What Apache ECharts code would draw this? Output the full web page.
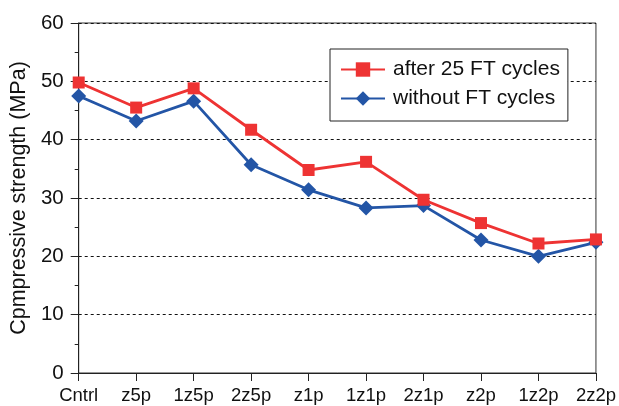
<!DOCTYPE html>
<html>
<head>
<meta charset="utf-8">
<script src="https://cdn.jsdelivr.net/npm/echarts@6/dist/echarts.min.js"></script>
<style>html,body{margin:0;padding:0;background:#fff;}#c{width:619px;height:406px;}</style>
</head>
<body>
<div id="c"></div>
<script>
var categories = ['Cntrl','z5p','1z5p','2z5p','z1p','1z1p','2z1p','z2p','1z2p','2z2p'];
var afterFT = [49.8, 45.5, 48.8, 41.7, 34.8, 36.2, 29.7, 25.7, 22.2, 22.9];
var withoutFT = [47.5, 43.2, 46.6, 35.7, 31.4, 28.3, 28.7, 22.8, 20.0, 22.4];
var yTicks = [0, 10, 20, 30, 40, 50, 60];

var chart = echarts.init(document.getElementById('c'));
var font = 'Liberation Sans, Arial, sans-serif';
chart.setOption({
  animation: false,
  backgroundColor: '#fff',
  grid: { left: 78, right: 21, top: 23, bottom: 33, show: true, borderColor: '#333', borderWidth: 1, backgroundColor: 'transparent' },
  legend: {
    orient: 'vertical', left: 330, top: 49,
    data: ['after 25 FT cycles', 'without FT cycles'],
    backgroundColor: '#fff', borderColor: '#222', borderWidth: 1,
    padding: [10, 8, 12, 10], itemWidth: 44, itemHeight: 18, itemGap: 8,
    textStyle: { fontFamily: font, fontSize: 21, color: '#111', padding: [0, 0, 0, 3] }
  },
  xAxis: {
    type: 'category', data: categories, boundaryGap: false,
    axisLine: { lineStyle: { color: '#222', width: 1 } },
    axisTick: { show: true, length: 8, alignWithLabel: true, lineStyle: { color: '#222' } },
    axisLabel: { fontFamily: font, fontSize: 18.5, color: '#111', margin: 13, interval: 0 },
    splitLine: { show: false }
  },
  yAxis: {
    type: 'value', min: yTicks[0], max: yTicks[yTicks.length - 1], interval: 10,
    name: 'Cpmpressive strength (MPa)', nameLocation: 'middle', nameGap: 44, nameRotate: 90,
    nameTextStyle: { fontFamily: font, fontSize: 21.5, color: '#111' },
    axisLine: { show: true, lineStyle: { color: '#222', width: 1 } },
    axisTick: { show: true, length: 8, lineStyle: { color: '#222' } },
    minorTick: { show: true, splitNumber: 2, length: 4, lineStyle: { color: '#222' } },
    axisLabel: { fontFamily: font, fontSize: 20.5, color: '#111', margin: 15 },
    splitLine: { show: true, lineStyle: { color: '#111', type: [3, 3], width: 1 } }
  },
  series: [
    {
      name: 'without FT cycles', type: 'line', data: withoutFT,
      symbol: 'diamond', symbolSize: 15,
      lineStyle: { color: '#2355A6', width: 2.8 },
      itemStyle: { color: '#2355A6' }, z: 2
    },
    {
      name: 'after 25 FT cycles', type: 'line', data: afterFT,
      symbol: 'rect', symbolSize: 12,
      lineStyle: { color: '#EE3333', width: 2.8 },
      itemStyle: { color: '#EE3333' }, z: 3
    }
  ]
});
</script>
</body>
</html>
